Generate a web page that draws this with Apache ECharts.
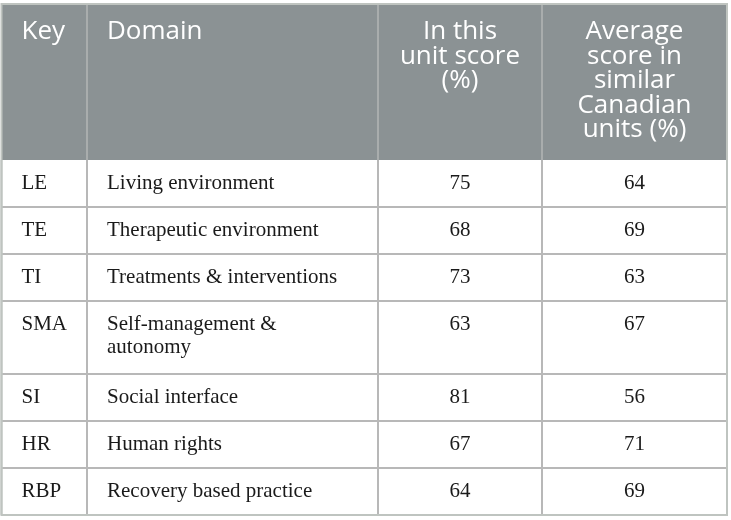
<!DOCTYPE html>
<html>
<head>
<meta charset="utf-8">
<script src="https://cdn.jsdelivr.net/npm/echarts@6/dist/echarts.min.js"></script>
<style>
  html, body { margin: 0; padding: 0; background: #ffffff; }
  #chart { width: 731px; height: 520px; }
</style>
</head>
<body>
<div id="chart"></div>
<script>
// ---- Data ----
const headers = ['Key', 'Domain', 'In this\nunit score\n(%)', 'Average\nscore in\nsimilar\nCanadian\nunits (%)'];
const keys = ['LE', 'TE', 'TI', 'SMA', 'SI', 'HR', 'RBP'];
const domains = ['Living environment', 'Therapeutic environment', 'Treatments & interventions',
  'Self-management &\nautonomy', 'Social interface', 'Human rights', 'Recovery based practice'];
const unitScore = [75, 68, 73, 63, 81, 67, 64];
const canadianAvg = [64, 69, 63, 67, 56, 71, 69];

// ---- Layout (table geometry in the grid's coordinate space) ----
const colEdges = [1.5, 87, 378, 542, 727];
const colAlign = ['left', 'left', 'center', 'center'];
const tableTop = 4;
const headerHeight = 156;
const rowBase = 47;
const rowExtraLine = 26;
const pad = 20;
const headerFont = { family: '"Open Sans", "Noto Sans", sans-serif', size: 26, lineHeight: 24.5, firstCenter: 28 };
const bodyFont = { family: '"Liberation Serif", "DejaVu Serif", serif', size: 21, lineHeight: 23, firstCenter: 23.5 };
const headerBg = '#8b9294';
const headerLine = '#a9adad';
const lineColor = '#b8b8b8';
const borderColor = '#bfc4c0';

// row bounds derived from line counts
const rows = [];
let yCursor = tableTop + headerHeight;
keys.forEach(function (k, i) {
  const cells = [k, domains[i], String(unitScore[i]), String(canadianAvg[i])];
  const lines = Math.max.apply(null, cells.map(function (c) { return c.split('\n').length; }));
  const h = rowBase + (lines - 1) * rowExtraLine;
  rows.push([yCursor, yCursor + h, i]);
  yCursor += h;
});
const tableBottom = yCursor;

function textX(ci) {
  if (colAlign[ci] === 'center') return (colEdges[ci] + colEdges[ci + 1]) / 2;
  return colEdges[ci] + pad;
}

function renderHeader(params, api) {
  const children = [];
  const tl = api.coord([colEdges[0], tableTop]);
  const br = api.coord([colEdges[colEdges.length - 1], tableTop + headerHeight]);
  children.push({ type: 'rect', shape: { x: tl[0], y: tl[1], width: br[0] - tl[0], height: br[1] - tl[1] },
    style: { fill: headerBg } });
  for (let c = 1; c < colEdges.length - 1; c++) {
    const a = api.coord([colEdges[c], tableTop]);
    const b = api.coord([colEdges[c], tableTop + headerHeight]);
    children.push({ type: 'line', shape: { x1: a[0], y1: a[1], x2: b[0], y2: b[1] },
      style: { stroke: headerLine, lineWidth: 2 } });
  }
  headers.forEach(function (h, ci) {
    const p = api.coord([textX(ci), tableTop + headerFont.firstCenter - headerFont.lineHeight / 2]);
    children.push({ type: 'text', style: { text: h, x: p[0], y: p[1], fill: '#ffffff',
      fontFamily: headerFont.family, fontSize: headerFont.size, lineHeight: headerFont.lineHeight,
      align: colAlign[ci], verticalAlign: 'top' } });
  });
  return { type: 'group', children: children };
}

function renderRow(params, api) {
  const top = api.value(0), bottom = api.value(1), i = api.value(2);
  const cells = [keys[i], domains[i], String(unitScore[i]), String(canadianAvg[i])];
  const children = [];
  const a = api.coord([colEdges[0], bottom]);
  const b = api.coord([colEdges[colEdges.length - 1], bottom]);
  children.push({ type: 'line', shape: { x1: a[0], y1: a[1], x2: b[0], y2: b[1] },
    style: { stroke: lineColor, lineWidth: 2 } });
  for (let c = 0; c < colEdges.length; c++) {
    const p1 = api.coord([colEdges[c], top]);
    const p2 = api.coord([colEdges[c], bottom]);
    children.push({ type: 'line', shape: { x1: p1[0], y1: p1[1], x2: p2[0], y2: p2[1] },
      style: { stroke: (c === 0 || c === colEdges.length - 1) ? borderColor : lineColor, lineWidth: 2 } });
  }
  cells.forEach(function (t, ci) {
    const p = api.coord([textX(ci), top + bodyFont.firstCenter - bodyFont.lineHeight / 2]);
    children.push({ type: 'text', style: { text: t, x: p[0], y: p[1], fill: '#1a1a1a',
      fontFamily: bodyFont.family, fontSize: bodyFont.size, lineHeight: bodyFont.lineHeight,
      align: colAlign[ci], verticalAlign: 'top' } });
  });
  return { type: 'group', children: children };
}

const chart = echarts.init(document.getElementById('chart'), null, { renderer: 'canvas' });
chart.setOption({
  animation: false,
  backgroundColor: '#ffffff',
  grid: { left: 0, right: 0, top: 0, bottom: 0 },
  xAxis: { type: 'value', min: 0, max: 731, show: false },
  yAxis: { type: 'value', min: 0, max: 520, inverse: true, show: false },
  series: [
    { type: 'custom', coordinateSystem: 'cartesian2d', renderItem: renderHeader, data: [[0]], silent: true, clip: false },
    { type: 'custom', coordinateSystem: 'cartesian2d', renderItem: renderRow, data: rows, silent: true, clip: false,
      encode: { x: -1, y: [0, 1] } },
    { type: 'custom', coordinateSystem: 'cartesian2d', silent: true, clip: false, data: [[0]],
      renderItem: function (params, api) {
        const tl = api.coord([colEdges[0], tableTop]);
        const br = api.coord([colEdges[colEdges.length - 1], tableBottom]);
        return { type: 'rect', shape: { x: tl[0], y: tl[1], width: br[0] - tl[0], height: br[1] - tl[1] },
          style: { fill: 'none', stroke: borderColor, lineWidth: 2 } };
      } }
  ]
});
</script>
</body>
</html>
